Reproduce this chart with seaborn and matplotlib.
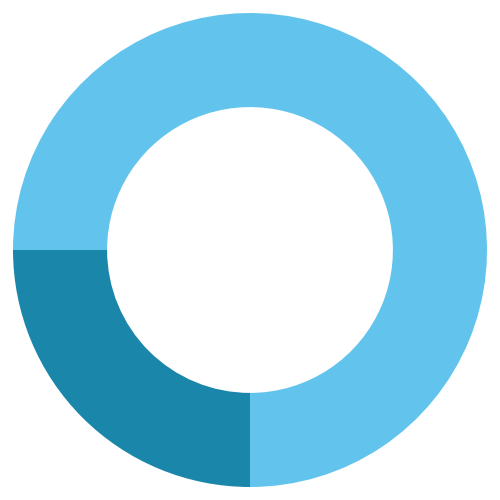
import matplotlib
matplotlib.use("Agg")
import matplotlib.pyplot as plt
import seaborn as sns

categories = ["A", "B"]
values = [75, 25]
colors = ["#62C4EC", "#1A86AA"]

sns.set_style("white")
fig = plt.figure(figsize=(5, 5), dpi=100)
ax = fig.add_axes([0, 0, 1, 1])
ax.pie(values, colors=colors, startangle=-90, counterclock=True,
       radius=1.0, wedgeprops=dict(width=0.397, edgecolor="none", linewidth=0))
lim = 250 / 237
ax.set_xlim(-lim, lim)
ax.set_ylim(-lim, lim)
ax.set_aspect("equal")
ax.axis("off")
fig.savefig("out.png", dpi=100, facecolor="white")
